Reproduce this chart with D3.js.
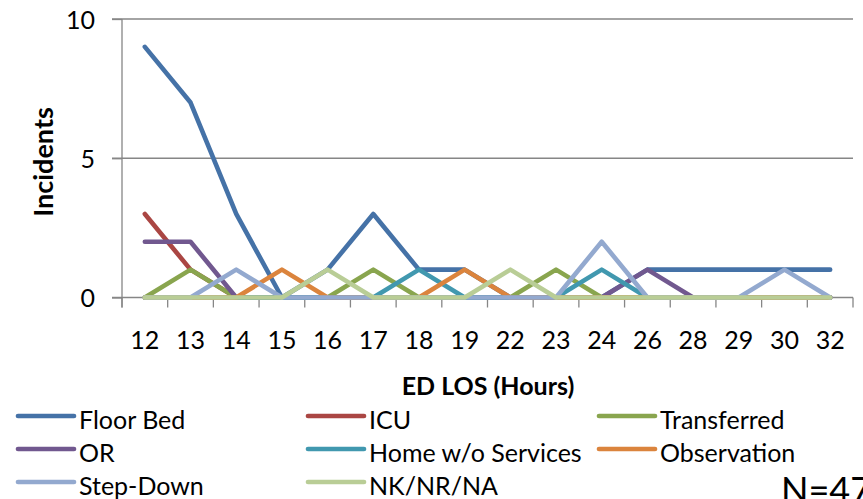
<!DOCTYPE html>
<html>
<head>
<meta charset="utf-8">
<script src="https://cdn.jsdelivr.net/npm/d3@7/dist/d3.min.js"></script>
<style>
html,body{margin:0;padding:0;background:#fff;}
svg{display:block;}
text{font-family:Lato,"Open Sans",sans-serif;fill:#000;}
</style>
</head>
<body>
<svg id="chart" width="863" height="499"></svg>
<script>
const categories = ["12","13","14","15","16","17","18","19","22","23","24","26","28","29","30","32"];
const seriesNames = ["Floor Bed","ICU","Transferred","OR","Home w/o Services","Observation","Step-Down","NK/NR/NA"];
const floorBed    = [9,7,3,0,1,3,1,1,0,0,0,1,1,1,1,1];
const icu         = [3,1,0,0,0,0,0,0,0,0,0,0,0,0,0,0];
const transferred = [0,1,0,0,0,1,0,0,0,1,0,0,0,0,0,0];
const orData      = [2,2,0,0,0,0,0,0,0,0,0,1,0,0,0,0];
const homeNoSvc   = [0,0,0,0,0,0,1,0,0,0,1,0,0,0,0,0];
const observation = [0,0,0,1,0,0,0,1,0,0,0,0,0,0,0,0];
const stepDown    = [0,0,1,0,0,0,0,0,0,0,2,0,0,0,1,0];
const nkNrNa      = [0,0,0,0,1,0,0,0,1,0,0,0,0,0,0,0];
const seriesColors = ["#4572A7","#AA4643","#89A54E","#71588F","#4198AF","#DB843D","#93A9CF","#B9CD96"];
const yTicks = [0,5,10];
const yTitle = "Incidents";
const xTitle = "ED LOS (Hours)";
const note = "N=47";

const seriesValues = [floorBed, icu, transferred, orData, homeNoSvc, observation, stepDown, nkNrNa];
const series = seriesNames.map((n,i)=>({name:n, color:seriesColors[i], values:seriesValues[i]}));

const svg = d3.select("#chart");
const L = 122, R = 853, T = 19, B = 297.5;
const gray = "#868686";
const fs = 25;

const x = d3.scaleBand().domain(categories).range([L, R]).padding(0);
const xc = c => x(c) + x.bandwidth()/2;
const y = d3.scaleLinear().domain([0,10]).range([B, T]);

// gridlines
svg.append("g").selectAll("line").data(yTicks.filter(v=>v>0)).join("line")
  .attr("x1", L-10).attr("x2", R).attr("y1", d=>y(d)).attr("y2", d=>y(d))
  .attr("stroke", gray).attr("stroke-width", 1.3);

// y axis
const yAxis = d3.axisLeft(y).tickValues(yTicks).tickSize(10).tickPadding(16).tickFormat(d3.format("d"));
const gy = svg.append("g").attr("transform", `translate(${L},0)`).call(yAxis);
gy.select(".domain").remove();
gy.selectAll(".tick line").attr("stroke", gray).attr("stroke-width",1.3);
gy.selectAll(".tick text").attr("font-size", fs).attr("font-family","Lato").attr("fill","#000").attr("dy","0.36em").attr("x",-27);
svg.append("line").attr("x1",L).attr("x2",L).attr("y1",T).attr("y2",B+10).attr("stroke",gray).attr("stroke-width",1.3);

// x axis
svg.append("line").attr("x1",L-10).attr("x2",R).attr("y1",B).attr("y2",B).attr("stroke",gray).attr("stroke-width",1.3);
const edges = categories.map(c=>x(c)).concat([R]);
svg.append("g").selectAll("line").data(edges).join("line")
  .attr("x1",d=>d).attr("x2",d=>d).attr("y1",B).attr("y2",B+10)
  .attr("stroke",gray).attr("stroke-width",1.3);
const xAxis = d3.axisBottom(x).tickSize(0).tickPadding(0);
const gx = svg.append("g").attr("transform", `translate(0,${B})`).call(xAxis);
gx.select(".domain").remove();
gx.selectAll(".tick text").attr("font-size", fs).attr("font-family","Lato").attr("fill","#000").attr("dy",null).attr("y", 51.5);

// lines
const line = d3.line().x((d,i)=>xc(categories[i])).y(d=>y(d));
svg.append("g").selectAll("path").data(series).join("path")
  .attr("d", d=>line(d.values))
  .attr("fill","none").attr("stroke", d=>d.color).attr("stroke-width",4.6)
  .attr("stroke-linecap","round").attr("stroke-linejoin","round");

// axis titles
svg.append("text").attr("transform","translate(53,162) rotate(-90)").attr("text-anchor","middle")
  .attr("font-size",27).attr("font-weight","bold").text(yTitle);
svg.append("text").attr("x",488).attr("y",395).attr("text-anchor","middle")
  .attr("font-size",fs).attr("font-weight","bold").text(xTitle);

// legend
const colX = [18, 308, 599], rowY = [416, 449, 482];
const lg = svg.append("g").selectAll("g").data(series).join("g")
  .attr("transform",(d,i)=>`translate(${colX[i%3]},${rowY[Math.floor(i/3)]})`);
lg.append("line").attr("x1",0).attr("x2",56).attr("y1",0).attr("y2",0)
  .attr("stroke",d=>d.color).attr("stroke-width",4.7).attr("stroke-linecap","round");
lg.append("text").attr("x",61).attr("y",13).attr("font-size",fs).text(d=>d.name);

// note
svg.append("text").attr("x",781).attr("y",503).attr("font-size",36)
  .attr("font-family","'Liberation Serif','Times New Roman',serif").text(note);
</script>
</body>
</html>
